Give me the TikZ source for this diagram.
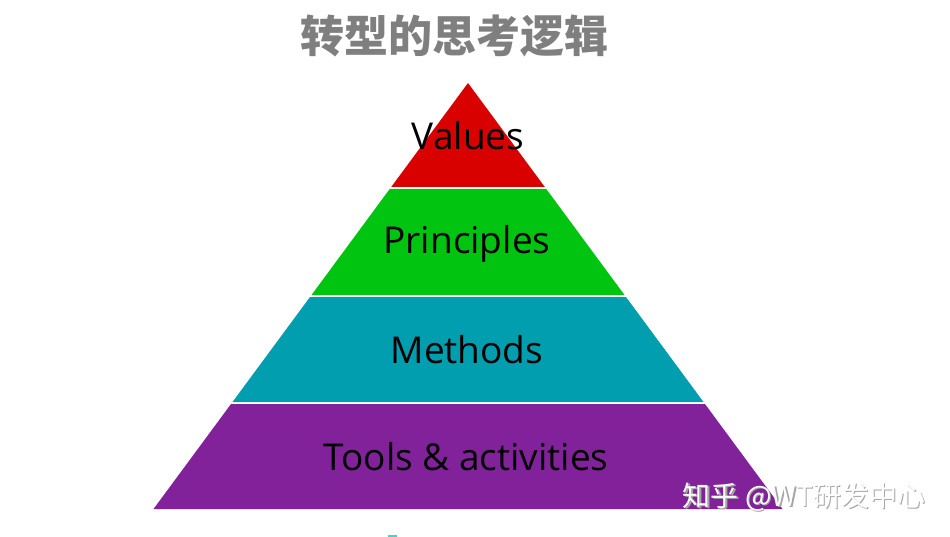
\documentclass[tikz,border=0pt]{standalone}
\usepackage{fontspec}
\setmainfont{Open Sans}
\newfontfamily\cjk{Noto Sans CJK SC}
\usepackage{tikz}

\definecolor{topred}{HTML}{D90000}
\definecolor{midgreen}{HTML}{00C410}
\definecolor{midteal}{HTML}{009EAF}
\definecolor{basepurple}{HTML}{81229A}
\definecolor{titlegray}{HTML}{7F7F7F}
\definecolor{specktint}{HTML}{40D8C8}

\tikzset{
	layer/.style={font=\fontsize{37}{40}\selectfont, text=black, inner sep=0pt},
	wmtext/.style={font=\cjk\fontsize{28}{30}\selectfont, inner sep=0pt}
}

\begin{document}
\begin{tikzpicture}[x=1pt,y=-1pt]
		\useasboundingbox (0,0) rectangle (950,537);

		% title
		\node[font=\cjk\bfseries\fontsize{44}{46}\selectfont, text=titlegray] (title) at (454,36) {转型的思考逻辑};

		% pyramid bands
		\fill[topred] (468,83) -- (544.8,187) -- (391.2,187) -- cycle;
		\fill[midgreen] (389.7,189) -- (546.3,189) -- (624.5,295) -- (311.5,295) -- cycle;
		\fill[midteal] (310,297) -- (626,297) -- (703.5,402) -- (232.5,402) -- cycle;
		\fill[basepurple] (231,404) -- (705,404) -- (782.5,509) -- (153.5,509) -- cycle;

		\node[layer] (values) at (468,136) {Values};
		\node[layer] (principles) at (467,244) {Principles};
		\node[layer] (methods) at (467,350) {Methods};
		\node[layer] (tools) at (466,457) {Tools \& activities};

		% watermark
		\node[wmtext, text=gray!70] (wmshadow) at (805.5,498.5) {知乎 @WT研发中心};
		\node[wmtext, text=white] (wm) at (804,497) {知乎 @WT研发中心};

		\draw[specktint, line width=1.5pt] (388,536) -- (397,536);
	\end{tikzpicture}
\end{document}
